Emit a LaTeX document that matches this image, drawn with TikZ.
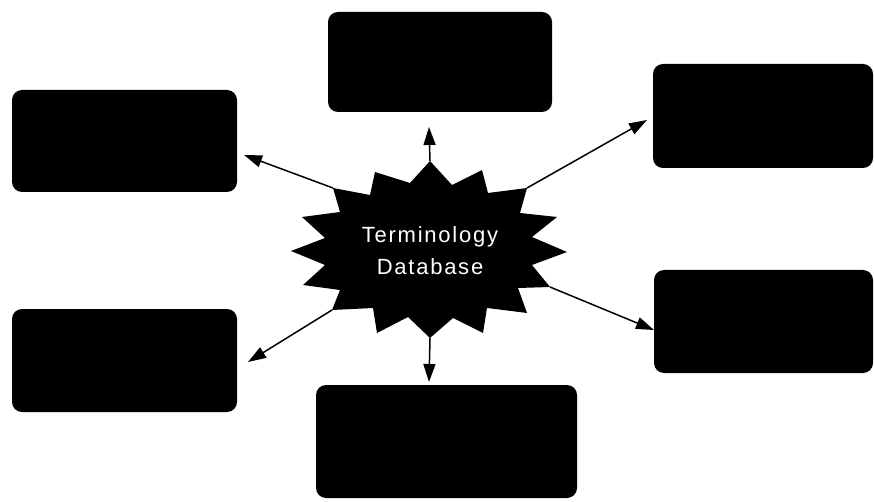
\documentclass[tikz,border=0pt]{standalone}
\usepackage{fontspec}
\newfontfamily\lblfont[LetterSpace=8]{Liberation Sans}
\usetikzlibrary{arrows.meta}
\begin{document}
\begin{tikzpicture}[x=1pt,y=-1pt,
  box/.style={rectangle, rounded corners=10pt, fill=black, draw=none, inner sep=0pt},
  arr/.style={line width=1.5pt, -{Triangle[length=18pt,width=12pt]}},
  lbl/.style={text=white, align=center, font=\lblfont\fontsize{22}{32}\selectfont}]
\fill[white] (0,0) rectangle (874,502);
\useasboundingbox (0,0) rectangle (874,502);
% boxes
\node[box, minimum width=225pt, minimum height=102pt] (tl) at (124.5,141) {};
\node[box, minimum width=225pt, minimum height=103pt] (bl) at (124.5,360.5) {};
\node[box, minimum width=224pt, minimum height=100pt] (tp) at (440,62) {};
\node[box, minimum width=220pt, minimum height=104pt] (tr) at (763,116) {};
\node[box, minimum width=219pt, minimum height=103pt] (br) at (763.5,321.5) {};
\node[box, minimum width=261pt, minimum height=113pt] (bt) at (446.5,441.5) {};
% star tips
\coordinate (sT) at (430,161);
\coordinate (sTR) at (527,188);
\coordinate (sBR) at (550,287);
\coordinate (sB) at (430,338);
\coordinate (sBL) at (332,310);
\coordinate (sTL) at (333,188);
% starburst
\fill[black] (sT) -- (452,185) -- (482,170) -- (488,193) -- (sTR) -- (520,213)
  -- (557,217) -- (532,237) -- (567,252) -- (532,265) -- (sBR) -- (518,288)
  -- (527,313) -- (487,308) -- (483,333) -- (453,318) -- (sB) -- (408,317)
  -- (377,333) -- (373,308) -- (sBL) -- (340,290) -- (303,285) -- (325,265)
  -- (291,251) -- (325,238) -- (302,217) -- (340,212) -- (sTL) -- (370,195)
  -- (375,172) -- (410,183) -- cycle;
\node[lbl] (db) at (430,251) {Terminology\\Database};
% arrow ends
\coordinate (eT) at (429,127);
\coordinate (eB) at (429,382);
\coordinate (eTL) at (244,155);
\coordinate (eBL) at (248,362);
\coordinate (eTR) at (647,120);
\coordinate (eBR) at (654,330);
\draw[arr] (sT) -- (eT);
\draw[arr] (sB) -- (eB);
\draw[arr] (sTL) -- (eTL);
\draw[arr] (sBL) -- (eBL);
\draw[arr] (sTR) -- (eTR);
\draw[arr] (sBR) -- (eBR);
\end{tikzpicture}
\end{document}
